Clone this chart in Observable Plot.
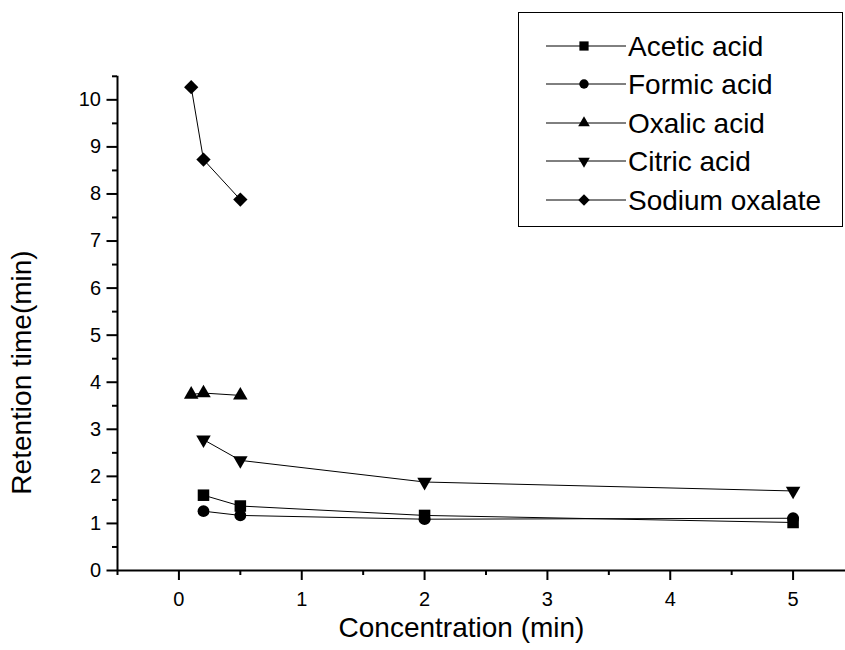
<!DOCTYPE html>
<html>
<head>
<meta charset="utf-8">
<script src="https://cdn.jsdelivr.net/npm/d3@7"></script>
<script src="https://cdn.jsdelivr.net/npm/@observablehq/plot@0.6"></script>
<style>
  html, body { margin: 0; padding: 0; background: #fff; }
  #wrap { position: relative; width: 845px; height: 650px; overflow: hidden; font-family: "Liberation Sans", Arial, Helvetica, sans-serif; }
  #legend { position: absolute; left: 518px; top: 12px; width: 325px; height: 215px; box-sizing: border-box; border: 1.5px solid #000; background: #fff; }
</style>
</head>
<body>
<div id="wrap"><div id="chart"></div><div id="legend"></div></div>
<script>
// ---- data ----
const seriesNames = ["Acetic acid", "Formic acid", "Oxalic acid", "Citric acid", "Sodium oxalate"];
const aceticX = [0.2, 0.5, 2, 5];
const aceticY = [1.60, 1.37, 1.17, 1.02];
const formicX = [0.2, 0.5, 2, 5];
const formicY = [1.26, 1.17, 1.09, 1.11];
const oxalicX = [0.1, 0.2, 0.5];
const oxalicY = [3.74, 3.77, 3.72];
const citricX = [0.2, 0.5, 2, 5];
const citricY = [2.78, 2.34, 1.88, 1.69];
const sodiumX = [0.1, 0.2, 0.5];
const sodiumY = [10.27, 8.73, 7.88];

const xMajorTicks = [0, 1, 2, 3, 4, 5];
const xMinorTicks = [-0.5, 0.5, 1.5, 2.5, 3.5, 4.5, 5.5];
const yMajorTicks = [0, 1, 2, 3, 4, 5, 6, 7, 8, 9, 10];
const yMinorTicks = [0.5, 1.5, 2.5, 3.5, 4.5, 5.5, 6.5, 7.5, 8.5, 9.5, 10.5];
const xTitle = "Concentration (min)";
const yTitle = "Retention time(min)";

// ---- build table ----
const seriesData = [
  {name: seriesNames[0], xs: aceticX, ys: aceticY},
  {name: seriesNames[1], xs: formicX, ys: formicY},
  {name: seriesNames[2], xs: oxalicX, ys: oxalicY},
  {name: seriesNames[3], xs: citricX, ys: citricY},
  {name: seriesNames[4], xs: sodiumX, ys: sodiumY}
];
const rows = seriesData.flatMap(s => s.xs.map((x, i) => ({series: s.name, x, y: s.ys[i]})));

// marker styles per series
const markerStyle = {
  "Acetic acid":    {symbol: "square",   r: 6.5, rotate: 0},
  "Formic acid":    {symbol: "circle",   r: 5.9, rotate: 0},
  "Oxalic acid":    {symbol: "triangle", r: 5.4, rotate: 0},
  "Citric acid":    {symbol: "triangle", r: 5.4, rotate: 180},
  "Sodium oxalate": {symbol: "square",   r: 5.7, rotate: 45}
};

const font = "Liberation Sans";
const noLabel = () => "";

const dotMarks = seriesNames.map(name => Plot.dot(rows.filter(d => d.series === name), {
  x: "x", y: "y", fill: "black", stroke: "none",
  symbol: markerStyle[name].symbol, r: markerStyle[name].r, rotate: markerStyle[name].rotate
}));

const chart = Plot.plot({
  width: 845,
  height: 650,
  marginLeft: 117,
  marginRight: 0,
  marginTop: 76,
  marginBottom: 80,
  x: {domain: [-0.5, 5.5], range: [117, 854]},
  y: {domain: [0, 10.5], range: [570, 75.8]},
  style: {fontFamily: font, fontSize: "20px", color: "black", background: "white"},
  marks: [
    Plot.line(rows, {x: "x", y: "y", z: "series", stroke: "black", strokeWidth: 1}),
    ...dotMarks,
    // minor ticks
    Plot.axisX({ticks: xMinorTicks, tickSize: 5, tickFormat: noLabel, strokeWidth: 2, label: null}),
    Plot.axisY({ticks: yMinorTicks, tickSize: 5, tickFormat: noLabel, strokeWidth: 2, label: null}),
    // major ticks
    Plot.axisX({ticks: xMajorTicks, tickSize: 10, tickFormat: noLabel, strokeWidth: 2, label: null}),
    Plot.axisY({ticks: yMajorTicks, tickSize: 10.5, tickFormat: noLabel, strokeWidth: 2, label: null}),
    // tick labels (positioned through the scales)
    Plot.text(xMajorTicks, {x: d => d, text: d => String(d), frameAnchor: "bottom", lineAnchor: "top", dy: 21, fontSize: 20, fill: "black"}),
    Plot.text(yMajorTicks, {y: d => d, text: d => String(d), frameAnchor: "left", textAnchor: "end", dx: -16.5, fontSize: 20, fill: "black"}),
    // axis lines
    Plot.ruleY([0], {x1: -0.5, x2: 5.5, stroke: "black", strokeWidth: 2}),
    Plot.ruleX([-0.5], {y1: 0, y2: 10.5, stroke: "black", strokeWidth: 2}),
    // axis titles
    Plot.text([xTitle], {frameAnchor: "bottom", textAnchor: "middle", dx: -20, dy: 66, fontSize: 28, fill: "black"}),
    Plot.text([yTitle], {frameAnchor: "left", textAnchor: "middle", rotate: -90, dx: -95, dy: 49, fontSize: 28, fill: "black"})
  ]
});
document.getElementById("chart").appendChild(chart);

// ---- legend (overlay inside the plot area, as in the reference) ----
const legW = 322, legH = 212;
const leg = d3.select("#legend").append("svg").attr("width", legW).attr("height", legH)
  .style("display", "block");
const rowY = [33, 71, 110, 148, 187];
const symbolType = {square: d3.symbolSquare, circle: d3.symbolCircle, triangle: d3.symbolTriangle};
seriesNames.forEach((name, i) => {
  const g = leg.append("g").attr("transform", `translate(0,${rowY[i]})`);
  g.append("line").attr("x1", 27).attr("x2", 107).attr("y1", 0).attr("y2", 0)
    .attr("stroke", "black").attr("stroke-width", 1);
  const st = markerStyle[name];
  const rr = st.r * 0.8;
  g.append("path")
    .attr("d", d3.symbol(symbolType[st.symbol], rr * rr * Math.PI)())
    .attr("transform", `translate(65,0) rotate(${st.rotate})`)
    .attr("fill", "black");
  g.append("text").attr("x", 109).attr("y", 10)
    .attr("font-family", font).attr("font-size", 28).attr("fill", "black")
    .text(name);
});
</script>
</body>
</html>
